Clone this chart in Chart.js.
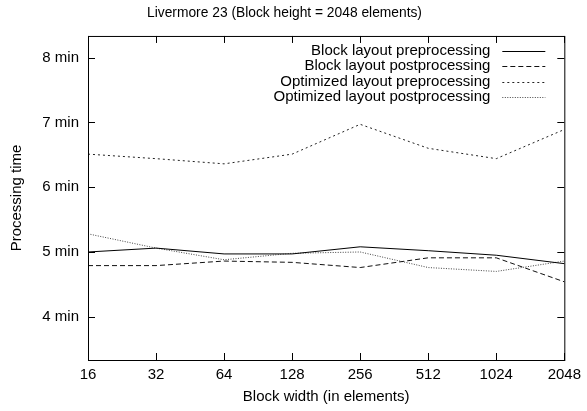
<!DOCTYPE html>
<html>
<head>
<meta charset="utf-8">
<script src="https://cdn.jsdelivr.net/npm/chart.js@4/dist/chart.umd.min.js"></script>
<style>
  html, body { margin: 0; padding: 0; background: #fff; }
  #wrap { width: 587px; height: 411px; }
</style>
</head>
<body>
<div id="wrap"><canvas id="timeChart" width="587" height="411"></canvas></div>
<script>
// block widths (x categories)
const blockWidths = ["16", "32", "64", "128", "256", "512", "1024", "2048"];
// processing time in minutes
const blockPre = [5.00, 5.06, 4.97, 4.97, 5.08, 5.02, 4.95, 4.82];
const blockPost = [4.79, 4.79, 4.86, 4.84, 4.76, 4.91, 4.91, 4.54];
const optPre = [6.51, 6.44, 6.36, 6.51, 6.97, 6.60, 6.44, 6.89];
const optPost = [5.28, 5.06, 4.88, 4.98, 5.00, 4.76, 4.70, 4.86];
const yTicks = [4, 5, 6, 7, 8];

const FONT = "'Liberation Sans', Arial, Helvetica, sans-serif";
const SIZE = 15;

// gnuplot style frame with inward ticks on all four sides
const framePlugin = {
  id: "frame",
  afterDatasetsDraw(chart) {
    const { ctx, chartArea: a, scales } = chart;
    const len = 7;
    ctx.save();
    ctx.strokeStyle = "#000";
    ctx.lineWidth = 1;
    ctx.strokeRect(a.left + 0.5, a.top + 0.5, a.right - a.left, a.bottom - a.top);
    ctx.beginPath();
    blockWidths.forEach((c, i) => {
      const x = Math.round(scales.x.getPixelForValue(i)) + 0.5;
      ctx.moveTo(x, a.bottom); ctx.lineTo(x, a.bottom - len);
      ctx.moveTo(x, a.top); ctx.lineTo(x, a.top + len);
    });
    yTicks.forEach(v => {
      const y = Math.round(scales.y.getPixelForValue(v)) + 0.5;
      ctx.moveTo(a.left, y); ctx.lineTo(a.left + len, y);
      ctx.moveTo(a.right, y); ctx.lineTo(a.right - len, y);
    });
    ctx.stroke();
    ctx.restore();
  }
};

// legend inside the top right corner, text left of the line sample
const keyPlugin = {
  id: "key",
  afterDatasetsDraw(chart) {
    const { ctx, chartArea: a } = chart;
    ctx.save();
    ctx.font = SIZE + "px " + FONT;
    ctx.textAlign = "right";
    ctx.textBaseline = "middle";
    chart.data.datasets.forEach((ds, i) => {
      const y = a.top + 15 + i * 15.3;
      ctx.fillStyle = "#000";
      ctx.fillText(ds.label, a.right - 74, y);
      ctx.strokeStyle = ds.borderColor;
      ctx.lineWidth = 1;
      ctx.setLineDash(ds.borderDash || []);
      ctx.beginPath();
      ctx.moveTo(a.right - 62, Math.round(y) + 0.5);
      ctx.lineTo(a.right - 19, Math.round(y) + 0.5);
      ctx.stroke();
    });
    ctx.restore();
  }
};

const data = {
  labels: blockWidths,
  datasets: [
    { label: "Block layout preprocessing", data: blockPre, borderColor: "#000", borderDash: [] },
    { label: "Block layout postprocessing", data: blockPost, borderColor: "#111", borderDash: [5, 3] },
    { label: "Optimized layout preprocessing", data: optPre, borderColor: "#222", borderDash: [2, 3] },
    { label: "Optimized layout postprocessing", data: optPost, borderColor: "#444", borderDash: [1, 1.5] }
  ]
};
data.datasets.forEach(ds => {
  ds.borderWidth = 1;
  ds.pointRadius = 0;
  ds.tension = 0;
  ds.fill = false;
});

const config = {
  type: "line",
  data: data,
  options: {
    responsive: false,
    animation: false,
    layout: { padding: { left: 0, right: 18, top: 0, bottom: 0 } },
    scales: {
      x: {
        offset: false,
        grid: { display: false, drawTicks: false },
        border: { display: false },
        ticks: { color: "#000", font: { family: FONT, size: SIZE }, padding: 6, maxRotation: 0 },
        title: { display: true, text: "Block width (in elements)", color: "#000", font: { family: FONT, size: SIZE }, padding: { top: 4, bottom: 5 } },
        afterFit(scale) { scale.height = 51; }
      },
      y: {
        min: 200 / 60,
        max: 500 / 60,
        afterBuildTicks(scale) { scale.ticks = yTicks.map(v => ({ value: v })); },
        grid: { display: false, drawTicks: false },
        border: { display: false },
        ticks: { color: "#000", font: { family: FONT, size: SIZE }, padding: 9, callback: v => v + " min" },
        title: { display: true, text: "Processing time", color: "#000", font: { family: FONT, size: SIZE }, padding: { top: 8, bottom: 4 } },
        afterFit(scale) { scale.width = 88; }
      }
    },
    plugins: {
      legend: { display: false },
      tooltip: { enabled: false },
      title: {
        display: true,
        text: "Livermore 23 (Block height = 2048 elements)",
        color: "#000",
        font: { family: FONT, size: 13.8, weight: "normal" },
        padding: { top: 5, bottom: 14.4 }
      }
    }
  },
  plugins: [framePlugin, keyPlugin]
};

new Chart(document.getElementById("timeChart").getContext("2d"), config);
</script>
</body>
</html>
